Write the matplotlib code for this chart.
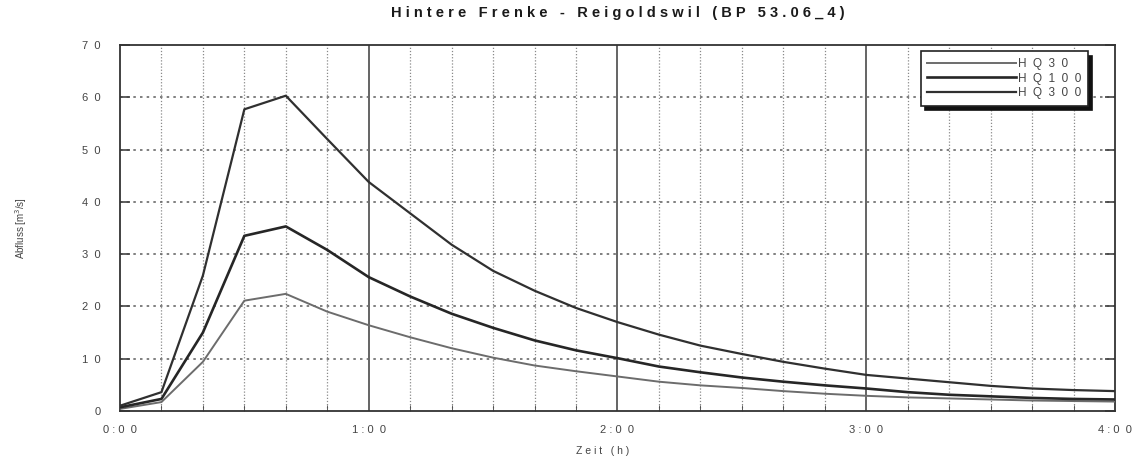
import matplotlib
matplotlib.use("Agg")
import matplotlib.pyplot as plt
from matplotlib.ticker import MultipleLocator, FixedLocator, FixedFormatter

plt.rcParams['font.family'] = ['Liberation Sans', 'DejaVu Sans']

# time in minutes
minutes = [0, 10, 20, 30, 40, 50, 60, 70, 80, 90, 100, 110, 120, 130, 140, 150,
           160, 170, 180, 190, 200, 210, 220, 230, 240]
hq30 = [0.4, 1.7, 9.4, 21.1, 22.4, 19.0, 16.4, 14.1, 12.0, 10.2, 8.7, 7.6, 6.6,
        5.6, 4.9, 4.4, 3.8, 3.3, 2.9, 2.6, 2.4, 2.2, 2.0, 1.9, 1.8]
hq100 = [0.7, 2.3, 15.0, 33.5, 35.3, 30.8, 25.6, 21.9, 18.6, 15.9, 13.5, 11.6, 10.1,
         8.5, 7.4, 6.4, 5.6, 4.9, 4.3, 3.6, 3.1, 2.8, 2.5, 2.3, 2.2]
hq300 = [1.0, 3.6, 25.9, 57.7, 60.3, 52.0, 43.8, 37.8, 31.8, 26.8, 23.0, 19.7, 17.0,
         14.6, 12.5, 10.9, 9.4, 8.1, 6.9, 6.2, 5.5, 4.8, 4.3, 4.0, 3.8]
series_labels = ["H  Q  3  0", "H  Q  1  0  0", "H  Q  3  0  0"]
x_tick_pos = [0, 60, 120, 180, 240]
x_tick_labels = ["0 : 0  0", "1 : 0  0", "2 : 0  0", "3 : 0  0", "4 : 0  0"]
y_tick_pos = [0, 10, 20, 30, 40, 50, 60, 70]
y_tick_labels = ["0", "1  0", "2  0", "3  0", "4  0", "5  0", "6  0", "7  0"]

fig = plt.figure(figsize=(11.35, 4.61), dpi=100)
ax = fig.add_axes([0.1057, 0.1085, 0.8767, 0.7939])

ax.set_xlim(0, 240)
ax.set_ylim(0, 70)

# grid
for m in range(10, 240, 10):
    if m % 60 == 0:
        ax.axvline(m, color='#3a3a3a', lw=1.1, zorder=1)
    else:
        ax.axvline(m, color='#8a8a8a', lw=0.9, ls=(0, (1, 1.5)), zorder=1)
for v in range(10, 70, 10):
    ax.axhline(v, color='#6a6a6a', lw=1.2, ls=(0, (1.5, 2.5)), zorder=1)

ax.plot(minutes, hq30, color='#6c6c6c', lw=1.4, label=series_labels[0], zorder=3)
ax.plot(minutes, hq100, color='#262626', lw=1.9, label=series_labels[1], zorder=3)
ax.plot(minutes, hq300, color='#303030', lw=1.6, label=series_labels[2], zorder=3)

ax.xaxis.set_major_locator(FixedLocator(x_tick_pos))
ax.xaxis.set_major_formatter(FixedFormatter(x_tick_labels))
ax.xaxis.set_minor_locator(MultipleLocator(10))
ax.yaxis.set_major_locator(FixedLocator(y_tick_pos))
ax.yaxis.set_major_formatter(FixedFormatter(y_tick_labels))

ax.tick_params(axis='x', which='major', direction='in', length=0, pad=10,
               labelsize=8, labelcolor='#444444')
ax.tick_params(axis='x', which='minor', direction='in', length=4, color='#444444')
ax.tick_params(axis='y', which='major', direction='in', length=7, width=1.2,
               color='#444444', right=True, pad=14, labelsize=8, labelcolor='#444444')

for s in ax.spines.values():
    s.set_color('#333333')
    s.set_linewidth(1.3)

ax.set_title("H i n t e r e   F r e n k e   -   R e i g o l d s w i l   ( B P   5 3 . 0 6 _ 4 )",
             fontsize=10.5, fontweight='bold', color='#1a1a1a', pad=20)
ax.set_xlabel("Z e i t   ( h )", fontsize=7.5, color='#444444')
ax.xaxis.set_label_coords(0.485, -0.095)
ax.set_ylabel("Abfluss [m$^3$/s]", fontsize=7, color='#444444', labelpad=38)

leg = ax.legend(loc='upper right', bbox_to_anchor=(0.976, 0.992), fontsize=8.5,
                handlelength=7.5, handletextpad=0.15, labelspacing=0.22,
                borderpad=0.55, borderaxespad=0.3, fancybox=False, framealpha=1,
                edgecolor='#222222',
                shadow={'color': '#111111', 'alpha': 1.0, 'ox': 3, 'oy': -3})
leg.get_frame().set_linewidth(1.2)
for t in leg.get_texts():
    t.set_color('#444444')
leg.set_zorder(5)

fig.savefig("out.png", dpi=100)
